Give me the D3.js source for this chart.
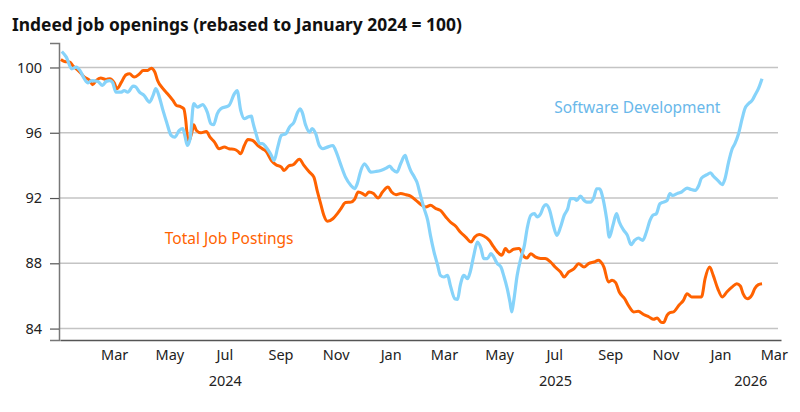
<!DOCTYPE html>
<html>
<head>
<meta charset="utf-8">
<script src="https://cdn.jsdelivr.net/npm/d3@7"></script>
<style>
  body { margin: 0; background: #fff; }
  text { font-family: "Noto Sans", "Open Sans", sans-serif; }
</style>
</head>
<body>
<div id="chart-area"></div>
<script>

var width = 800,
    height = 412;

// Chart text
var title = "Indeed job openings (rebased to January 2024 = 100)";
var yTicks = [84, 88, 92, 96, 100];

// Software Development (rebased, Jan 2024 = 100)
var softwareDev = [
  ["2024-01-03",100.98],["2024-01-08",100.63],["2024-01-14",99.92],["2024-01-19",100.02],["2024-01-23",99.82],
  ["2024-01-28",99.30],["2024-02-01",99.06],["2024-02-05",99.20],["2024-02-12",99.14],["2024-02-17",98.90],
  ["2024-02-21",99.14],["2024-02-25",99.20],["2024-02-28",99.10],["2024-03-03",98.49],["2024-03-09",98.49],
  ["2024-03-12",98.59],["2024-03-16",98.49],["2024-03-22",98.86],["2024-03-25",98.80],["2024-03-29",98.49],
  ["2024-04-03",98.29],["2024-04-09",97.88],["2024-04-13",98.29],["2024-04-16",98.70],["2024-04-20",98.18],
  ["2024-04-24",97.37],["2024-04-28",96.65],["2024-05-03",95.84],["2024-05-07",95.73],["2024-05-12",96.14],
  ["2024-05-16",96.25],["2024-05-18",95.88],["2024-05-21",95.22],["2024-05-24",95.63],["2024-05-28",97.78],
  ["2024-06-01",97.57],["2024-06-07",97.72],["2024-06-12",97.26],["2024-06-16",96.55],["2024-06-19",96.49],
  ["2024-06-23",97.16],["2024-06-27",97.47],["2024-07-06",97.67],["2024-07-12",98.39],["2024-07-15",98.59],
  ["2024-07-19",97.37],["2024-07-23",96.86],["2024-07-27",96.96],["2024-07-31",97.02],["2024-08-01",96.76],
  ["2024-08-05",95.94],["2024-08-09",95.33],["2024-08-12",95.33],["2024-08-16",95.12],["2024-08-22",94.61],
  ["2024-08-25",94.30],["2024-08-29",95.12],["2024-09-02",95.84],["2024-09-07",95.94],["2024-09-11",96.35],
  ["2024-09-16",96.65],["2024-09-20",97.26],["2024-09-23",97.47],["2024-09-25",97.26],["2024-09-29",96.45],
  ["2024-10-03",96.04],["2024-10-06",96.25],["2024-10-10",95.94],["2024-10-14",95.22],["2024-10-18",95.02],
  ["2024-10-23",95.12],["2024-10-29",95.22],["2024-11-01",94.92],["2024-11-07",94.00],["2024-11-12",93.28],
  ["2024-11-18",92.77],["2024-11-22",92.57],["2024-11-25",92.88],["2024-11-29",93.69],["2024-12-03",94.10],
  ["2024-12-06",93.90],["2024-12-10",93.59],["2024-12-16",93.63],["2024-12-21",93.69],["2024-12-27",93.83],
  ["2024-12-31",93.96],["2025-01-03",93.75],["2025-01-08",93.59],["2025-01-12",94.10],["2025-01-17",94.61],
  ["2025-01-19",94.30],["2025-01-23",93.69],["2025-01-27",93.30],["2025-01-30",92.98],["2025-02-03",92.16],
  ["2025-02-07",91.35],["2025-02-11",90.63],["2025-02-14",89.71],["2025-02-18",88.69],["2025-02-22",87.88],
  ["2025-02-25",87.26],["2025-03-01",87.16],["2025-03-05",87.26],["2025-03-08",86.65],["2025-03-13",85.83],
  ["2025-03-16",85.79],["2025-03-19",86.65],["2025-03-23",87.26],["2025-03-27",87.06],["2025-03-30",87.47],
  ["2025-04-03",88.49],["2025-04-07",89.30],["2025-04-11",88.90],["2025-04-14",88.29],["2025-04-18",88.29],
  ["2025-04-22",88.59],["2025-04-25",88.39],["2025-04-29",87.98],["2025-05-03",87.77],["2025-05-06",87.26],
  ["2025-05-10",86.45],["2025-05-13",85.63],["2025-05-15",85.02],["2025-05-17",85.63],["2025-05-21",87.26],
  ["2025-05-25",88.29],["2025-05-29",89.10],["2025-06-01",90.12],["2025-06-05",90.94],["2025-06-09",91.04],
  ["2025-06-12",90.84],["2025-06-16",91.04],["2025-06-19",91.45],["2025-06-22",91.59],["2025-06-26",91.24],
  ["2025-06-30",90.33],["2025-07-04",89.71],["2025-07-08",90.22],["2025-07-12",90.94],["2025-07-16",91.35],
  ["2025-07-19",91.96],["2025-07-23",91.96],["2025-07-26",91.86],["2025-07-30",92.12],["2025-08-03",91.86],
  ["2025-08-06",91.75],["2025-08-10",91.75],["2025-08-14",92.06],["2025-08-17",92.57],["2025-08-20",92.57],
  ["2025-08-24",91.96],["2025-08-28",90.73],["2025-08-31",89.60],["2025-09-04",90.33],["2025-09-08",91.04],
  ["2025-09-11",90.53],["2025-09-16",90.02],["2025-09-20",89.71],["2025-09-24",89.14],["2025-09-28",89.41],
  ["2025-10-02",89.55],["2025-10-07",89.41],["2025-10-11",89.92],["2025-10-15",90.63],["2025-10-18",90.94],
  ["2025-10-22",91.04],["2025-10-26",91.65],["2025-10-30",91.75],["2025-11-03",91.86],["2025-11-06",92.27],
  ["2025-11-09",92.16],["2025-11-14",92.27],["2025-11-19",92.37],["2025-11-25",92.61],["2025-11-29",92.53],
  ["2025-12-04",92.47],["2025-12-08",92.77],["2025-12-11",93.22],["2025-12-17",93.43],["2025-12-21",93.55],
  ["2025-12-24",93.35],["2025-12-29",93.08],["2026-01-03",92.82],["2026-01-06",93.18],["2026-01-10",94.20],
  ["2026-01-14",95.02],["2026-01-17",95.33],["2026-01-21",95.94],["2026-01-25",96.86],["2026-01-28",97.47],
  ["2026-02-01",97.78],["2026-02-05",97.98],["2026-02-08",98.29],["2026-02-12",98.70],["2026-02-16",99.31]
];

// Total Job Postings (rebased, Jan 2024 = 100)
var totalPostings = [
  ["2024-01-02",100.49],["2024-01-06",100.37],["2024-01-12",100.33],["2024-01-15",100.12],["2024-01-19",99.92],
  ["2024-01-23",99.71],["2024-01-28",99.41],["2024-02-03",99.20],["2024-02-06",98.94],["2024-02-10",99.20],
  ["2024-02-15",99.35],["2024-02-21",99.27],["2024-02-25",99.31],["2024-03-01",99.06],["2024-03-04",98.70],
  ["2024-03-09",99.10],["2024-03-14",99.55],["2024-03-18",99.61],["2024-03-23",99.41],["2024-03-29",99.61],
  ["2024-04-02",99.82],["2024-04-07",99.82],["2024-04-11",99.96],["2024-04-15",99.71],["2024-04-18",99.20],
  ["2024-04-24",98.70],["2024-04-29",98.39],["2024-05-05",97.98],["2024-05-09",97.67],["2024-05-13",97.61],
  ["2024-05-17",97.47],["2024-05-19",96.86],["2024-05-21",95.73],["2024-05-22",95.43],["2024-05-26",96.04],
  ["2024-05-28",96.49],["2024-05-31",96.14],["2024-06-05",96.00],["2024-06-11",96.08],["2024-06-15",95.73],
  ["2024-06-20",95.43],["2024-06-25",95.02],["2024-07-01",95.12],["2024-07-06",95.02],["2024-07-12",94.98],
  ["2024-07-16",94.86],["2024-07-19",94.71],["2024-07-23",95.22],["2024-07-27",95.59],["2024-08-01",95.53],
  ["2024-08-07",95.22],["2024-08-12",95.02],["2024-08-16",94.86],["2024-08-22",94.30],["2024-08-27",94.04],
  ["2024-09-02",93.90],["2024-09-05",93.69],["2024-09-10",93.96],["2024-09-15",94.04],["2024-09-22",94.37],
  ["2024-09-27",94.00],["2024-10-03",93.59],["2024-10-08",93.28],["2024-10-12",92.37],["2024-10-16",91.55],
  ["2024-10-19",90.94],["2024-10-23",90.57],["2024-10-29",90.73],["2024-11-03",91.04],["2024-11-07",91.35],
  ["2024-11-12",91.72],["2024-11-18",91.75],["2024-11-22",91.92],["2024-11-26",92.37],["2024-12-01",92.27],
  ["2024-12-04",92.16],["2024-12-08",92.37],["2024-12-13",92.27],["2024-12-18",92.00],["2024-12-23",92.37],
  ["2024-12-29",92.67],["2025-01-02",92.37],["2025-01-07",92.20],["2025-01-12",92.27],["2025-01-18",92.20],
  ["2025-01-23",92.12],["2025-01-29",91.86],["2025-02-03",91.62],["2025-02-09",91.45],["2025-02-14",91.55],
  ["2025-02-20",91.35],["2025-02-25",91.24],["2025-03-03",90.84],["2025-03-08",90.53],["2025-03-14",90.27],
  ["2025-03-19",89.92],["2025-03-25",89.61],["2025-03-31",89.30],["2025-04-04",89.61],["2025-04-09",89.76],
  ["2025-04-14",89.67],["2025-04-20",89.41],["2025-04-25",89.00],["2025-05-01",88.59],["2025-05-04",88.49],
  ["2025-05-08",88.90],["2025-05-12",88.69],["2025-05-17",88.86],["2025-05-23",88.90],["2025-05-29",88.39],
  ["2025-06-01",88.33],["2025-06-05",88.59],["2025-06-10",88.39],["2025-06-16",88.29],["2025-06-21",88.29],
  ["2025-06-27",88.08],["2025-07-02",87.77],["2025-07-08",87.47],["2025-07-12",87.16],["2025-07-17",87.47],
  ["2025-07-23",87.67],["2025-07-28",87.98],["2025-08-03",87.77],["2025-08-08",87.98],["2025-08-14",88.08],
  ["2025-08-19",88.18],["2025-08-21",88.12],["2025-08-25",87.77],["2025-08-30",86.85],["2025-09-03",86.96],
  ["2025-09-07",86.82],["2025-09-11",86.24],["2025-09-17",85.83],["2025-09-21",85.43],["2025-09-27",85.02],
  ["2025-10-02",85.06],["2025-10-08",84.86],["2025-10-14",84.71],["2025-10-19",84.57],["2025-10-23",84.65],
  ["2025-10-27",84.40],["2025-10-30",84.37],["2025-11-03",84.82],["2025-11-06",84.98],["2025-11-10",85.02],
  ["2025-11-16",85.43],["2025-11-21",85.73],["2025-11-25",86.14],["2025-11-30",85.94],["2025-12-06",85.94],
  ["2025-12-11",85.94],["2025-12-15",87.06],["2025-12-20",87.77],["2025-12-24",87.26],["2025-12-29",86.45],
  ["2026-01-03",85.94],["2026-01-08",86.24],["2026-01-14",86.55],["2026-01-19",86.75],["2026-01-23",86.61],
  ["2026-01-26",86.14],["2026-01-31",85.83],["2026-02-05",86.08],["2026-02-08",86.45],["2026-02-12",86.69],
  ["2026-02-16",86.75]
];

var parseDate = d3.timeParse("%Y-%m-%d");

var svg = d3.select("#chart-area").append("svg")
    .attr("width", width)
    .attr("height", height);

// scales
var xStart = parseDate("2024-01-01"),
    xEnd = parseDate("2026-03-09");

var x = d3.scaleTime()
    .domain([xStart, xEnd])
    .range([60, 781]);

var y = d3.scaleLinear()
    .domain([83.3, 101.5])
    .range([340, 43]);

// title
svg.append("text")
    .attr("x", 12)
    .attr("y", 31)
    .attr("font-size", 17.4)
    .attr("font-weight", "bold")
    .attr("fill", "#111")
    .text(title);

// gridlines
svg.append("g")
    .selectAll("line")
    .data(yTicks)
    .enter()
    .append("line")
    .attr("x1", 60)
    .attr("x2", 778)
    .attr("y1", d => y(d))
    .attr("y2", d => y(d))
    .attr("stroke", "#c4c4c4")
    .attr("stroke-width", 1.5);

// y axis
var yAxis = d3.axisLeft(y)
    .tickValues(yTicks)
    .tickSize(9)
    .tickPadding(8);

var yG = svg.append("g")
    .attr("transform", "translate(59,0)")
    .call(yAxis);
yG.select(".domain").attr("stroke", "#777").attr("stroke-width", 1.5);
yG.selectAll(".tick line").attr("stroke", "#555").attr("stroke-width", 1.2);
yG.selectAll(".tick text")
    .attr("font-size", 14.5)
    .attr("fill", "#222")
    .style("font-family", "'Noto Sans', sans-serif");

// x axis (months)
var monthTicks = x.ticks(d3.timeMonth.every(2))
    .filter(d => d > xStart);

var xAxis = d3.axisBottom(x)
    .tickValues(monthTicks)
    .tickFormat(d3.timeFormat("%b"))
    .tickSize(0)
    .tickPadding(10);

var xG = svg.append("g")
    .attr("transform", "translate(0,340)")
    .call(xAxis);
xG.select(".domain").attr("stroke", "#555").attr("stroke-width", 1.5);
xG.selectAll(".tick text")
    .attr("font-size", 14.5)
    .attr("fill", "#222")
    .style("font-family", "'Noto Sans', sans-serif");

// year labels, centred on the part of each year inside the axis
var years = [2024, 2025, 2026];
svg.append("g")
    .selectAll("text")
    .data(years)
    .enter()
    .append("text")
    .attr("x", function(yr) {
      var a = d3.max([new Date(yr, 0, 1), xStart]);
      var b = d3.min([new Date(yr + 1, 0, 1), xEnd]);
      return (x(a) + x(b)) / 2;
    })
    .attr("y", 386)
    .attr("text-anchor", "middle")
    .attr("font-size", 14.5)
    .attr("fill", "#222")
    .text(d => d);

// lines
var line = d3.line()
    .x(d => x(parseDate(d[0])))
    .y(d => y(d[1]))
    .curve(d3.curveMonotoneX);

svg.append("path")
    .datum(totalPostings)
    .attr("fill", "none")
    .attr("stroke", "#FF6200")
    .attr("stroke-width", 3)
    .attr("stroke-linejoin", "round")
    .attr("d", line);

svg.append("path")
    .datum(softwareDev)
    .attr("fill", "none")
    .attr("stroke", "#86D3FA")
    .attr("stroke-width", 3.2)
    .attr("stroke-linejoin", "round")
    .attr("d", line);

// series labels
svg.append("text")
    .attr("x", x(parseDate("2025-07-01")))
    .attr("y", y(97.2))
    .attr("font-size", 15.5)
    .attr("fill", "#69B8EA")
    .text("Software Development");

svg.append("text")
    .attr("x", x(parseDate("2024-04-26")))
    .attr("y", y(89.2))
    .attr("font-size", 15.5)
    .attr("fill", "#FF6200")
    .text("Total Job Postings");

</script>
</body>
</html>
